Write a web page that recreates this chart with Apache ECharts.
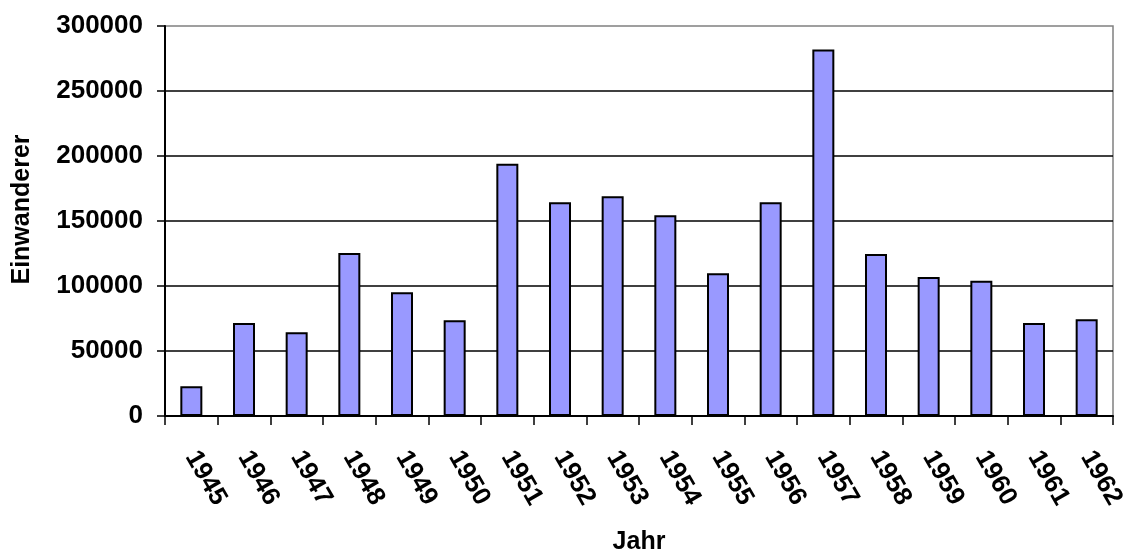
<!DOCTYPE html>
<html>
<head>
<meta charset="utf-8">
<title>Einwanderer 1945–1962</title>
<script src="https://cdn.jsdelivr.net/npm/echarts@6/dist/echarts.min.js"></script>
<style>
  html, body { margin: 0; padding: 0; background: #fff; }
  #chart { width: 1128px; height: 552px; }
</style>
</head>
<body>
<div id="chart"></div>
<script>
// Jahre (Kategorien) und Zahl der Einwanderer pro Jahr
const years = ['1945', '1946', '1947', '1948', '1949', '1950', '1951', '1952', '1953',
               '1954', '1955', '1956', '1957', '1958', '1959', '1960', '1961', '1962'];
const immigrants = [22800, 71500, 64400, 125400, 95100, 73600, 194100, 164400, 169000,
                    154400, 109800, 164400, 282000, 124600, 106900, 104100, 71500, 74400];
// Werteachse
const yMin = 0;
const yMax = 300000;
const yStep = 50000;

const FONT = '"Liberation Sans", Arial, Helvetica, sans-serif';

const chart = echarts.init(document.getElementById('chart'), null, { renderer: 'canvas' });

chart.setOption({
  animation: false,
  backgroundColor: '#ffffff',
  grid: {
    left: 165,
    right: 15,
    top: 26,
    bottom: 136,
    outerBoundsMode: 'none',
    containLabel: false,
    show: true,
    borderColor: '#808080',
    borderWidth: 1.5,
    backgroundColor: 'transparent'
  },
  xAxis: {
    type: 'category',
    data: years,
    boundaryGap: true,
    name: 'Jahr',
    nameLocation: 'middle',
    nameGap: 114,
    nameTextStyle: { fontFamily: FONT, fontWeight: 'bold', fontSize: 25, color: '#000' },
    axisLine: { show: true, lineStyle: { color: '#000', width: 2 } },
    axisTick: { show: true, interval: 0, length: 9, lineStyle: { color: '#000', width: 1.5 } },
    axisLabel: {
      interval: 0,
      rotate: -60,
      margin: 37,
      fontFamily: FONT,
      fontWeight: 'bold',
      fontSize: 26,
      color: '#000'
    },
    splitLine: { show: false }
  },
  yAxis: {
    type: 'value',
    min: yMin,
    max: yMax,
    interval: yStep,
    name: 'Einwanderer',
    nameLocation: 'middle',
    nameRotate: 90,
    nameGap: 130,
    nameTextStyle: {
      fontFamily: FONT, fontWeight: 'bold', fontSize: 25, color: '#000',
      padding: [0, 0, 0, 23]
    },
    axisLine: { show: true, lineStyle: { color: '#000', width: 2 } },
    axisTick: { show: true, length: 8, lineStyle: { color: '#000', width: 1.5 } },
    axisLabel: {
      margin: 22,
      fontFamily: FONT,
      fontWeight: 'bold',
      fontSize: 26,
      color: '#000',
      formatter: (v) => String(v)
    },
    splitLine: {
      show: true,
      showMaxLine: false,
      lineStyle: { color: '#000', width: 1.6 }
    }
  },
  series: [{
    type: 'bar',
    data: immigrants,
    barWidth: 22,
    itemStyle: {
      color: '#9999FF',
      borderColor: '#000',
      borderWidth: 2
    }
  }]
});
</script>
</body>
</html>
